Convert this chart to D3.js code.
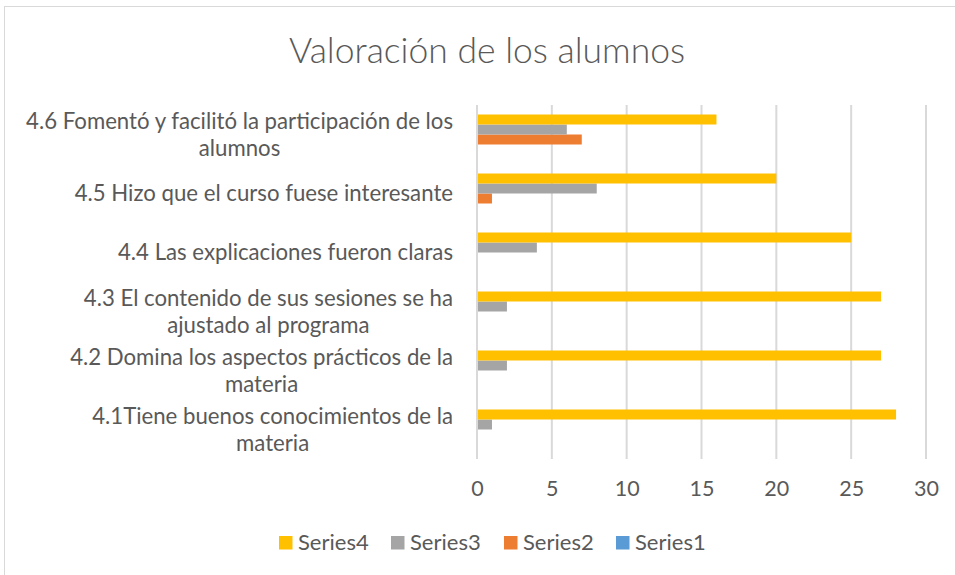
<!DOCTYPE html>
<html><head><meta charset="utf-8">
<script src="https://cdn.jsdelivr.net/npm/d3@7/dist/d3.min.js"></script>
<style>body{margin:0;background:#fff}svg{display:block}text{font-family:Lato,"Open Sans",sans-serif;fill:#595959}</style>
</head><body><svg id="c" width="955" height="575"></svg>
<script>
const title = "Valoración de los alumnos";
const categories = [
  "4.1Tiene buenos conocimientos de la\nmateria",
  "4.2 Domina los aspectos prácticos de la\nmateria",
  "4.3 El contenido de sus sesiones se ha\najustado al programa",
  "4.4 Las explicaciones fueron claras",
  "4.5 Hizo que el curso fuese interesante",
  "4.6 Fomentó y facilitó la participación de los\nalumnos"
];
const seriesNames = ["Series1","Series2","Series3","Series4"];
const series1 = [0,0,0,0,0,0];
const series2 = [0,0,0,0,1,7];
const series3 = [1,2,2,4,8,6];
const series4 = [28,27,27,25,20,16];
const colors = ["#5B9BD5","#ED7D31","#A5A5A5","#FFC000"];
const xTicks = [0,5,10,15,20,25,30];

const seriesVals = [series1,series2,series3,series4];
const svg = d3.select("#c");

svg.append("rect").attr("x",4.5).attr("y",6.5).attr("width",1000).attr("height",600)
  .attr("fill","#fff").attr("stroke","#D9D9D9").attr("stroke-width",1);

const pLeft = 477, pRight = 926, pTop = 105, pBottom = 459;
const x = d3.scaleLinear().domain([0,30]).range([pLeft,pRight]);
const y = d3.scaleBand().domain(categories.slice().reverse()).range([pTop,pBottom])
  .paddingInner(0.322).paddingOuter(0.161);
const ys = d3.scaleBand().domain(seriesNames.slice().reverse()).range([0,y.bandwidth()]);

svg.append("text").attr("x",487).attr("y",63).attr("text-anchor","middle")
  .style("font-size","35.5px").style("font-weight",300).text(title);

svg.append("g").selectAll("line").data(xTicks).join("line")
  .attr("x1",d=>x(d)).attr("x2",d=>x(d)).attr("y1",pTop).attr("y2",pBottom)
  .attr("stroke","#D9D9D9").attr("stroke-width",2);

const g = svg.append("g");
seriesNames.forEach((s,si)=>{
  g.selectAll(null).data(categories).join("rect")
    .attr("x",x(0)+1)
    .attr("y",c=>y(c)+ys(s))
    .attr("width",(c,i)=>Math.max(0,x(seriesVals[si][i])-x(0)-1))
    .attr("height",ys.bandwidth())
    .attr("fill",colors[si]);
});

const xa = svg.append("g").attr("transform",`translate(0,${pBottom})`)
  .call(d3.axisBottom(x).tickValues(xTicks).tickSize(0).tickPadding(22));
xa.select(".domain").remove();
xa.selectAll("text").style("font-size","21.5px").style("fill","#595959").style("font-family","Lato");

const lh = 27;
categories.forEach(c=>{
  const lines = c.split("\n");
  const cy = y(c)+y.bandwidth()/2;
  const t = svg.append("text").attr("text-anchor","middle").style("font-size","22.2px");
  const y0 = cy - (lines.length-1)*lh/2;
  lines.forEach((l,i)=>{
    t.append("tspan").attr("y",y0+i*lh).attr("dy","0.35em").text(l);
  });
  const tmp = [];
  t.selectAll("tspan").each(function(){tmp.push(this.getComputedTextLength());});
  const w = d3.max(tmp);
  t.selectAll("tspan").attr("x",453 - w/2);
});

const legendX = [279,391,504,616];
const legOrder = seriesNames.slice().reverse();
legOrder.forEach((s,i)=>{
  const si = seriesNames.indexOf(s);
  const lg = svg.append("g").attr("transform",`translate(${legendX[i]},536)`);
  lg.append("rect").attr("width",13.5).attr("height",13.5).attr("fill",colors[si]);
  lg.append("text").attr("x",19).attr("y",14).style("font-size","22px").text(s);
});
</script></body></html>
